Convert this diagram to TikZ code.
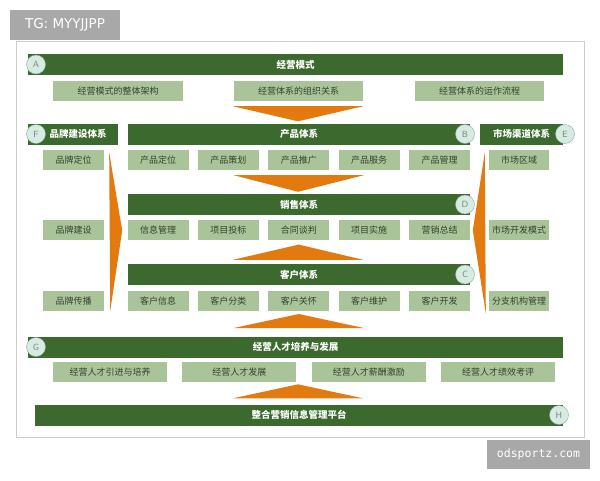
\documentclass[tikz,border=0pt]{standalone}
\usepackage{fontspec}
\newfontfamily\cjk{Noto Sans CJK SC}
\newfontfamily\markfont{DejaVu Sans}
\newfontfamily\markmono{DejaVu Sans Mono}
\usetikzlibrary{positioning,calc}
\definecolor{barg}{RGB}{59,105,46}
\definecolor{itemg}{RGB}{170,196,154}
\definecolor{itemtext}{RGB}{52,66,46}
\definecolor{flowor}{RGB}{226,122,16}
\definecolor{tagfill}{RGB}{214,236,226}
\definecolor{tagline}{RGB}{140,170,155}
\definecolor{framegray}{RGB}{204,204,204}
\definecolor{markgray}{RGB}{168,168,168}
\tikzset{
    bar/.style={fill=barg, text=white, font=\cjk\bfseries\fontsize{9.5}{10}\selectfont, minimum height=21pt, inner sep=0pt},
    item/.style={fill=itemg, text=itemtext, font=\cjk\fontsize{9}{10}\selectfont, minimum height=20pt, inner sep=0pt},
    tag/.style={circle, draw=tagline, fill=tagfill, text=gray, minimum size=19pt, inner sep=0pt, font=\sffamily\fontsize{9}{9}\selectfont},
    flow/.style={fill=flowor},
    wmark/.style={fill=markgray, text=white, inner sep=0pt}
}
\begin{document}
\begin{tikzpicture}[x=1pt, y=-1pt, node distance=9pt]
    \useasboundingbox (0,0) rectangle (600,480);
    \fill[white] (0,0) rectangle (600,480);
    \draw[framegray, line width=1pt] (16,41) rectangle (584,437);
    \node[wmark, minimum width=110pt, minimum height=30pt, font=\markfont\fontsize{13.5}{14}\selectfont] (tgmark) at (65,25) {TG: MYYJJPP};
    \node[wmark, minimum width=103pt, minimum height=29pt, font=\markmono\fontsize{11.5}{12}\selectfont] (sitemark) at (538.5,454.5) {odsportz.com};

    \node[bar, minimum width=535pt] (modebar) at (295.5,64.5) {经营模式};
    \node[item, minimum width=130pt] (wholebox) at (118,91) {经营模式的整体架构};
    \node[item, minimum width=129pt] (orgbox) at (298.5,91) {经营体系的组织关系};
    \node[item, minimum width=129pt] (runbox) at (479.5,91) {经营体系的运作流程};

    \node[bar, minimum width=90pt] (brandbar) at (73,134) {\hspace*{10pt}品牌建设体系};
    \node[bar, minimum width=342pt] (probar) at (299,134) {产品体系};
    \node[bar, minimum width=83pt] (marketbar) at (521.5,134) {市场渠道体系};

    \node[item, minimum width=61pt] (b1) at (73.5,160) {品牌定位};
    \node[item, minimum width=61pt] (p1) at (158,160) {产品定位};
    \node[item, minimum width=61pt, right=of p1] (p2) {产品策划};
    \node[item, minimum width=61pt, right=of p2] (p3) {产品推广};
    \node[item, minimum width=61pt, right=of p3] (p4) {产品服务};
    \node[item, minimum width=61pt, right=of p4] (p5) {产品管理};
    \node[item, minimum width=60pt] (m1) at (519,160) {市场区域};

    \node[bar, minimum width=342pt] (salebar) at (299,204.5) {销售体系};
    \node[item, minimum width=61pt, below=50pt of b1] (b2) {品牌建设};
    \node[item, minimum width=61pt, below=50pt of p1] (s1) {信息管理};
    \node[item, minimum width=61pt, right=of s1] (s2) {项目投标};
    \node[item, minimum width=61pt, right=of s2] (s3) {合同谈判};
    \node[item, minimum width=61pt, right=of s3] (s4) {项目实施};
    \node[item, minimum width=61pt, right=of s4] (s5) {营销总结};
    \node[item, minimum width=60pt, below=50pt of m1] (m2) {市场开发模式};

    \node[bar, minimum width=342pt] (cusbar) at (299,274.5) {客户体系};
    \node[item, minimum width=61pt, below=50pt of b2] (b3) {品牌传播};
    \node[item, minimum width=61pt, below=50pt of s1] (c1) {客户信息};
    \node[item, minimum width=61pt, right=of c1] (c2) {客户分类};
    \node[item, minimum width=61pt, right=of c2] (c3) {客户关怀};
    \node[item, minimum width=61pt, right=of c3] (c4) {客户维护};
    \node[item, minimum width=61pt, right=of c4] (c5) {客户开发};
    \node[item, minimum width=60pt, below=50pt of m2] (m3) {分支机构管理};

    \node[bar, minimum width=535pt] (talbar) at (295.5,347) {经营人才培养与发展};
    \node[item, minimum width=114pt] (t1) at (110,372) {经营人才引进与培养};
    \node[item, minimum width=114pt, right=15pt of t1] (t2) {经营人才发展};
    \node[item, minimum width=114pt, right=15pt of t2] (t3) {经营人才薪酬激励};
    \node[item, minimum width=114pt, right=15pt of t3] (t4) {经营人才绩效考评};

    \node[bar, minimum width=528pt] (platbar) at (299,415) {整合营销信息管理平台};

    \node[tag] (tagA) at (36,64.5) {A};
    \node[tag] (tagF) at (36,134) {F};
    \node[tag] (tagB) at (465,134) {B};
    \node[tag] (tagE) at (565,134) {E};
    \node[tag] (tagD) at (465,204.5) {D};
    \node[tag] (tagC) at (465,274.5) {C};
    \node[tag] (tagG) at (36,347) {G};
    \node[tag] (tagH) at (559,415) {H};

    \fill[flow] ($(orgbox.south west)+(-1,5)$) -- ($(orgbox.south east)+(0,5)$) -- ($(probar.north)+(-1,-2)$) -- cycle;
    \fill[flow] ($(p3.south)+(-65,5)$) -- ($(p3.south)+(65,5)$) -- ($(salebar.north)+(-1,-2)$) -- cycle;
    \fill[flow] ($(cusbar.north)+(-66,-4)$) -- ($(cusbar.north)+(64,-4)$) -- ($(s3.south)+(0,4)$) -- cycle;
    \fill[flow] ($(c3.south)+(-65,17)$) -- ($(c3.south)+(65,17)$) -- ($(c3.south)+(0,3)$) -- cycle;
    \fill[flow] ($(platbar.north)+(-66,-6)$) -- ($(platbar.north)+(64,-6)$) -- ($(platbar.north)+(-1,-20)$) -- cycle;
    \fill[flow] ($(brandbar.south east)+(-9,8)$) -- ($(b2.east)+(18,0)$) -- ($(b3.south east)+(6,0)$) -- cycle;
    \fill[flow] ($(marketbar.south west)+(5,8)$) -- ($(m2.west)+(-16,0)$) -- ($(m3.south west)+(-3,2)$) -- cycle;
\end{tikzpicture}
\end{document}
